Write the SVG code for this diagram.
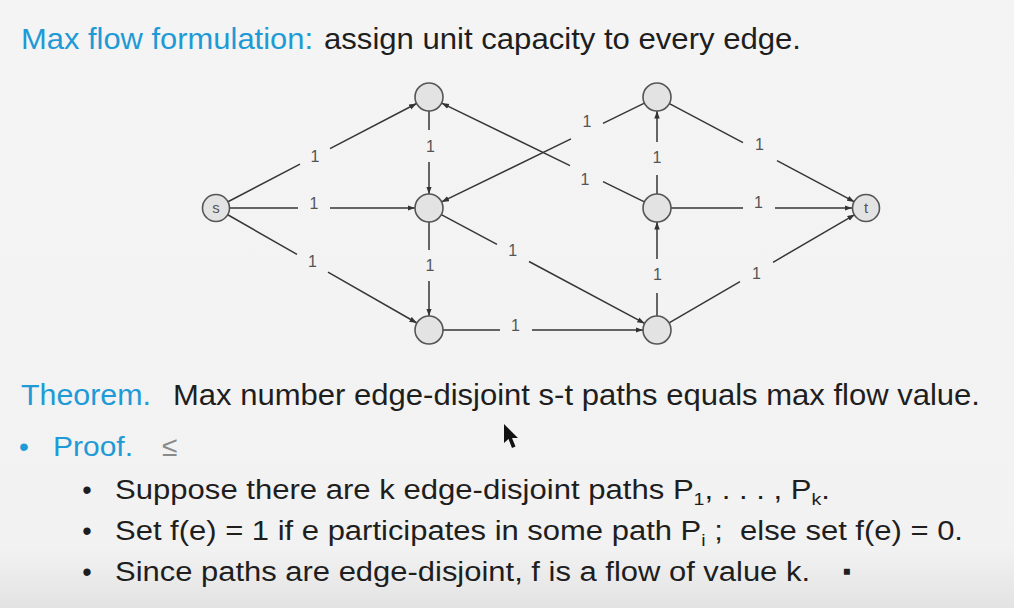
<svg xmlns="http://www.w3.org/2000/svg" width="1014" height="608" viewBox="0 0 1014 608">
<defs>
<linearGradient id="bg" x1="0" y1="0" x2="0" y2="1">
<stop offset="0" stop-color="#f4f4f4"/>
<stop offset="0.9" stop-color="#f2f2f2"/>
<stop offset="1" stop-color="#e3e3e3"/>
</linearGradient>
<marker id="arr" markerUnits="userSpaceOnUse" markerWidth="8" markerHeight="6" refX="7.5" refY="2.75" orient="auto">
<path d="M0,0 L7.5,2.75 L0,5.5 z" fill="#333"/>
</marker>
<style>
.node{fill:#e3e3e3;stroke:#555;stroke-width:1.6}
.nl{font-family:"Liberation Sans",Arial,sans-serif;font-size:15px;fill:#555;text-anchor:middle}
.edge{fill:none;stroke:#363636;stroke-width:1.5;marker-end:url(#arr)}
.el{font-family:"Liberation Sans",Arial,sans-serif;font-size:16px;fill:#555;text-anchor:middle}
.t{font-family:"Liberation Sans",Arial,sans-serif;fill:#1e1e1e}
.blue{fill:#1e9ad6}
.h1{font-size:29px}
.h2{font-size:30px}
.pr{font-size:28px}
.sub{font-size:27px;white-space:pre}
.sb{font-size:17px}
</style>
</defs>
<rect width="1014" height="608" fill="url(#bg)"/>

<g id="title">
<text class="t h1 blue" x="21" y="49" textLength="292" lengthAdjust="spacingAndGlyphs">Max flow formulation:</text>
<text class="t h1" x="324" y="49" textLength="477" lengthAdjust="spacingAndGlyphs">assign unit capacity to every edge.</text>
</g>

<g id="connectors">
<g id="e-sA"><path class="edge" d="M227.5,202 L300,164.2 M330,148.6 L416.6,103.5"/><text class="el" x="315" y="161.7">1</text></g>
<g id="e-sB"><path class="edge" d="M230,208 L298,208 M330,208 L415,208"/><text class="el" x="314" y="208.7">1</text></g>
<g id="e-sC"><path class="edge" d="M227.3,214.5 L297,254.4 M328,272.2 L416.9,323"/><text class="el" x="312.5" y="266.7">1</text></g>
<g id="e-AB"><path class="edge" d="M429,111 L429,130 M429,162 L429,194"/><text class="el" x="430.5" y="152.2">1</text></g>
<g id="e-BC"><path class="edge" d="M429,222 L429,250 M429,281 L429,316"/><text class="el" x="430" y="271.2">1</text></g>
<g id="e-CF"><path class="edge" d="M443,330 L500,330 M532,330 L643,330"/><text class="el" x="515.5" y="330.7">1</text></g>
<g id="e-BF"><path class="edge" d="M441.3,214.6 L497,244.4 M529,261.5 L644.7,323.4"/><text class="el" x="512.7" y="255.7">1</text></g>
<g id="e-EA"><path class="edge" d="M644.4,201.9 L603,181.7 M570,165.6 L441.6,103.1"/><text class="el" x="585" y="185">1</text></g>
<g id="e-DB"><path class="edge" d="M644.4,103.1 L603,123.3 M571,138.9 L441.6,201.9"/><text class="el" x="587" y="127.4">1</text></g>
<g id="e-ED"><path class="edge" d="M657,194 L657,175 M657,142 L657,111"/><text class="el" x="657" y="162.7">1</text></g>
<g id="e-FE"><path class="edge" d="M657,316 L657,293 M657,259 L657,222"/><text class="el" x="657.5" y="280.2">1</text></g>
<g id="e-Dt"><path class="edge" d="M669.4,103.6 L743,142.7 M777,160.7 L854.5,201.9"/><text class="el" x="759.5" y="150.2">1</text></g>
<g id="e-Et"><path class="edge" d="M671,208 L743,208 M775,208 L852,208"/><text class="el" x="758.5" y="207.7">1</text></g>
<g id="e-Ft"><path class="edge" d="M669.1,322.9 L740,281.6 M773,262.3 L854.8,214.6"/><text class="el" x="756.5" y="279.2">1</text></g>
</g>

<g id="s"><circle class="node" cx="216" cy="208" r="13.5"/><text class="nl" x="216" y="212.5">s</text></g>
<g id="A"><circle class="node" cx="429" cy="97" r="14"/></g>
<g id="B"><circle class="node" cx="429" cy="208" r="14"/></g>
<g id="C"><circle class="node" cx="429" cy="330" r="14"/></g>
<g id="D"><circle class="node" cx="657" cy="97" r="14"/></g>
<g id="E"><circle class="node" cx="657" cy="208" r="14"/></g>
<g id="F"><circle class="node" cx="657" cy="330" r="14"/></g>
<g id="t"><circle class="node" cx="866" cy="208" r="13.5"/><text class="nl" x="866" y="213">t</text></g>

<g id="theorem">
<text class="t h2 blue" x="21" y="405" textLength="130" lengthAdjust="spacingAndGlyphs">Theorem.</text>
<text class="t h2" x="173" y="405" textLength="807" lengthAdjust="spacingAndGlyphs">Max number edge-disjoint s-t paths equals max flow value.</text>
</g>

<g id="proof">
<text class="t pr blue" x="24" y="456" text-anchor="middle">•</text>
<text class="t pr blue" x="53" y="456" textLength="80" lengthAdjust="spacingAndGlyphs">Proof.</text>
<text class="t pr" x="162" y="456" style="fill:#8a8a8a">≤</text>
</g>

<g id="bullets">
<text class="t sub" x="87" y="499" text-anchor="middle">•</text>
<text class="t sub" x="115" y="499" textLength="715" lengthAdjust="spacingAndGlyphs">Suppose there are k edge-disjoint paths P<tspan class="sb" dy="6">1</tspan><tspan dy="-6">, . . . , P</tspan><tspan class="sb" dy="6">k</tspan><tspan dy="-6">.</tspan></text>
<text class="t sub" x="87" y="540" text-anchor="middle">•</text>
<text class="t sub" x="115" y="540" textLength="848" lengthAdjust="spacingAndGlyphs">Set f(e) = 1 if e participates in some path P<tspan class="sb" dy="6">i</tspan><tspan dy="-6"> ;  else set f(e) = 0.</tspan></text>
<text class="t sub" x="87" y="581" text-anchor="middle">•</text>
<text class="t sub" x="115" y="581" textLength="695" lengthAdjust="spacingAndGlyphs">Since paths are edge-disjoint, f is a flow of value k.</text>
<text class="t" x="847" y="579" font-size="24" text-anchor="middle">▪</text>
</g>

<g id="cursor">
<polygon points="504,424 504,443 508.5,439 512,448 515.5,446.5 512,438 518,438" fill="#111"/>
</g>
</svg>
